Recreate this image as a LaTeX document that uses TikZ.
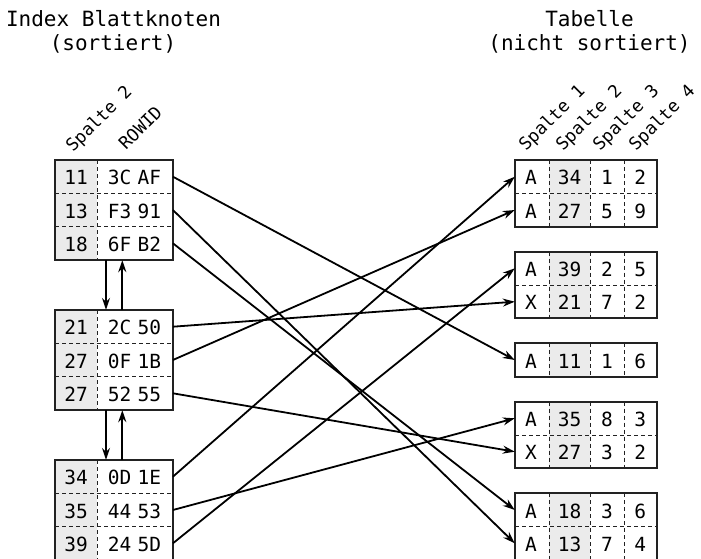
\documentclass[tikz,border=0pt]{standalone}
\usepackage{fontspec}
\setmainfont{DejaVu Sans Mono}
\usetikzlibrary{arrows.meta}
\definecolor{keygray}{HTML}{EBEBEB}
\definecolor{framec}{HTML}{222222}

% narrow gap between the two bytes of a rowid
\newcommand\bg{\hspace{0.32em}}
% one index row: name, y centre, key value, rowid
\newcommand\IxRow[4]{%
  \node[rowcell,minimum width=117.7pt] (#1) at (113.85,#2) {};
  \node[celltxt] at (76,#2) {#3};
  \node[celltxt] at (134.5,#2) {#4};
}
% one table row: name, y centre, four column values
\newcommand\TbRow[6]{%
  \node[rowcell,minimum width=141.7pt] (#1) at (585.85,#2) {};
  \node[celltxt] at (531,#2) {#3};
  \node[celltxt] at (569.5,#2) {#4};
  \node[celltxt] at (607,#2) {#5};
  \node[celltxt] at (640.3,#2) {#6};
}

\begin{document}
\begin{tikzpicture}[x=1pt,y=-1pt,
  frame/.style={draw=framec,line width=1.9pt},
  innerdash/.style={draw=framec,line width=0.9pt,dash pattern=on 4pt off 3pt},
  rowcell/.style={inner sep=0pt,minimum height=33.3pt,draw=none},
  celltxt/.style={anchor=base,yshift=-8pt,inner sep=0pt,font=\fontsize{19.5}{22}\selectfont},
  headtxt/.style={anchor=base,inner sep=0pt,font=\fontsize{21}{25}\selectfont},
  collabel/.style={anchor=base west,rotate=45,inner sep=0pt,font=\fontsize{17.5}{21}\selectfont},
  conn/.style={-{Stealth[length=12pt,width=8pt]},line width=1.8pt,black}]
\useasboundingbox (0,0) rectangle (701,559);

% titles
\node[headtxt] (hidxa) at (113.5,27) {Index Blattknoten};
\node[headtxt] (hidxb) at (113,51) {(sortiert)};
\node[headtxt] (htaba) at (589.5,27) {Tabelle};
\node[headtxt] (htabb) at (589.5,51) {(nicht sortiert)};

% column headings
\node[collabel] (lkey) at (73,153) {Spalte 2};
\node[collabel] (lrid) at (126,151) {ROWID};
\node[collabel] (lc1) at (526,152) {Spalte 1};
\node[collabel] (lc2) at (563,152) {Spalte 2};
\node[collabel] (lc3) at (600,152) {Spalte 3};
\node[collabel] (lc4) at (636,152) {Spalte 4};

% index leaf blocks
\foreach \t/\a/\b/\e in {160/193.3/226.7/260, 310/343.3/376.7/410, 460/493.3/526.7/560}{
  \fill[keygray] (55,\t) rectangle (97,\e);
  \draw[innerdash] (97,\t) -- (97,\e);
  \draw[innerdash] (55,\a) -- (172.7,\a);
  \draw[innerdash] (55,\b) -- (172.7,\b);
  \draw[frame] (55,\t) rectangle (172.7,\e);
}

% table blocks
\foreach \t/\e in {160/226.7, 251.7/318.3, 343.3/376.7, 401.7/468.3, 493.3/560}{
  \fill[keygray] (549.3,\t) rectangle (590,\e);
  \draw[innerdash] (549.3,\t) -- (549.3,\e);
  \draw[innerdash] (590,\t) -- (590,\e);
  \draw[innerdash] (624,\t) -- (624,\e);
}
\foreach \m in {193.3, 285, 435, 526.7}{
  \draw[innerdash] (515,\m) -- (656.7,\m);
}
\foreach \t/\e in {160/226.7, 251.7/318.3, 343.3/376.7, 401.7/468.3, 493.3/560}{
  \draw[frame] (515,\t) rectangle (656.7,\e);
}

% index rows
\IxRow{i1}{176.7}{11}{3C\bg AF}
\IxRow{i2}{210}{13}{F3\bg 91}
\IxRow{i3}{243.3}{18}{6F\bg B2}
\IxRow{i4}{326.7}{21}{2C\bg 50}
\IxRow{i5}{360}{27}{0F\bg 1B}
\IxRow{i6}{393.3}{27}{52\bg 55}
\IxRow{i7}{476.7}{34}{0D\bg 1E}
\IxRow{i8}{510}{35}{44\bg 53}
\IxRow{i9}{543.3}{39}{24\bg 5D}

% table rows
\TbRow{t1}{176.7}{A}{34}{1}{2}
\TbRow{t2}{210}{A}{27}{5}{9}
\TbRow{t3}{268.3}{A}{39}{2}{5}
\TbRow{t4}{301.7}{X}{21}{7}{2}
\TbRow{t5}{360}{A}{11}{1}{6}
\TbRow{t6}{418.3}{A}{35}{8}{3}
\TbRow{t7}{451.7}{X}{27}{3}{2}
\TbRow{t8}{510}{A}{18}{3}{6}
\TbRow{t9}{543.3}{A}{13}{7}{4}

% leaf chain links
\coordinate (dn) at (106,0);
\coordinate (up) at (122.3,0);
\draw[conn] (i3.south -| dn) -- (i4.north -| dn);
\draw[conn] (i4.north -| up) -- (i3.south -| up);
\draw[conn] (i6.south -| dn) -- (i7.north -| dn);
\draw[conn] (i7.north -| up) -- (i6.south -| up);

% rowid pointers
\draw[conn] (i1.east) -- (t5.west);
\draw[conn] (i2.east) -- (t9.west);
\draw[conn] (i3.east) -- (t8.west);
\draw[conn] (i4.east) -- (t4.west);
\draw[conn] (i5.east) -- (t2.west);
\draw[conn] (i6.east) -- (t7.west);
\draw[conn] (i7.east) -- (t1.west);
\draw[conn] (i8.east) -- (t6.west);
\draw[conn] (i9.east) -- (t3.west);
\end{tikzpicture}
\end{document}
